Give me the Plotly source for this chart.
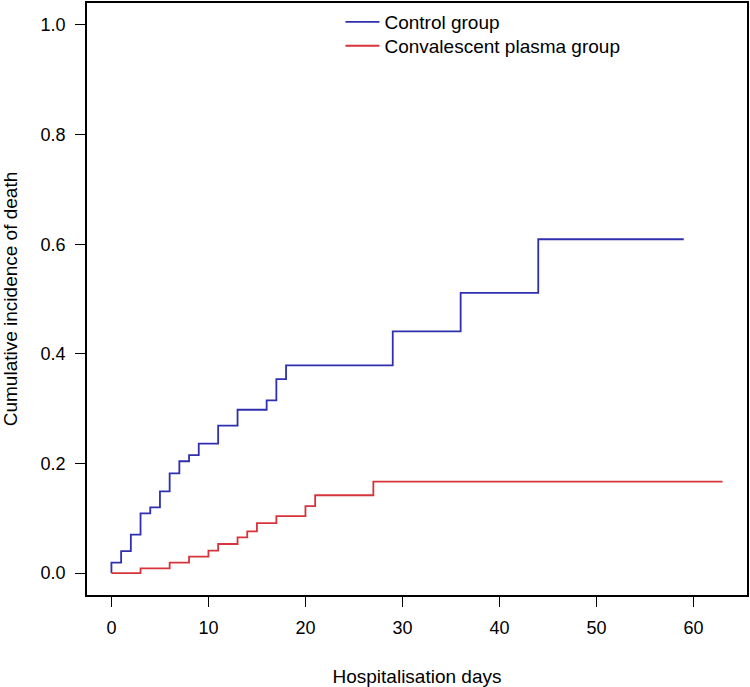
import plotly.graph_objects as go

# Data
control_days = [0, 0, 1, 2, 3, 4, 5, 6, 7, 8, 9, 11, 13, 16, 17, 18, 29, 36, 44, 59]
control_cif = [0.0, 0.019, 0.040, 0.070, 0.109, 0.120, 0.149, 0.182, 0.204, 0.215,
               0.236, 0.269, 0.298, 0.315, 0.354, 0.379, 0.441, 0.511, 0.609, 0.609]

plasma_days = [0, 3, 6, 8, 10, 11, 13, 14, 15, 17, 20, 21, 27, 63]
plasma_cif = [0.0, 0.0085, 0.019, 0.030, 0.041, 0.053, 0.065, 0.076, 0.091, 0.104,
              0.122, 0.142, 0.167, 0.167]

x_ticks = [0, 10, 20, 30, 40, 50, 60]
y_ticks = [0.0, 0.2, 0.4, 0.6, 0.8, 1.0]

FONT = "Liberation Sans, Arial, Helvetica, sans-serif"
BLUE = "#2F2FAF"
RED = "#D6343A"

fig = go.Figure()
fig.add_trace(go.Scatter(x=control_days, y=control_cif, mode="lines",
                         line=dict(shape="hv", color=BLUE, width=1.8),
                         name="Control group", legend="legend"))
fig.add_trace(go.Scatter(x=plasma_days, y=plasma_cif, mode="lines",
                         line=dict(shape="hv", color=RED, width=1.8),
                         name="Convalescent plasma group", legend="legend2"))

legend_common = dict(xanchor="left", yanchor="top", bgcolor="rgba(0,0,0,0)",
                     font=dict(size=19, family=FONT), itemwidth=34)

fig.update_layout(
    width=750, height=687,
    margin=dict(l=87, r=2, t=1, b=92),
    plot_bgcolor="white", paper_bgcolor="white",
    font=dict(family=FONT, size=18, color="black"),
    showlegend=True,
    legend=dict(x=0.384, y=1.0, **legend_common),
    legend2=dict(x=0.384, y=0.9596, **legend_common),
)
fig.update_xaxes(
    range=[-2.52, 65.52], tickvals=x_ticks, ticks="outside", ticklen=10,
    tickwidth=1.2, tickcolor="black", showgrid=False, zeroline=False,
    showline=True, linecolor="black", linewidth=1.5, mirror=True,
    tickfont=dict(size=18), ticklabelstandoff=6,
    title=dict(text="Hospitalisation days", font=dict(size=19), standoff=34),
)
fig.update_yaxes(
    range=[-0.04, 1.04], tickvals=y_ticks, tickformat=".1f", ticks="outside",
    ticklen=10, tickwidth=1.2, tickcolor="black", showgrid=False, zeroline=False,
    showline=True, linecolor="black", linewidth=1.5, mirror=True,
    tickfont=dict(size=18), ticklabelstandoff=6,
    title=dict(text="Cumulative incidence of death", font=dict(size=19), standoff=25),
)

fig.write_html("out.html", config={"displayModeBar": False},
               post_script="document.body.style.margin='0px';")
